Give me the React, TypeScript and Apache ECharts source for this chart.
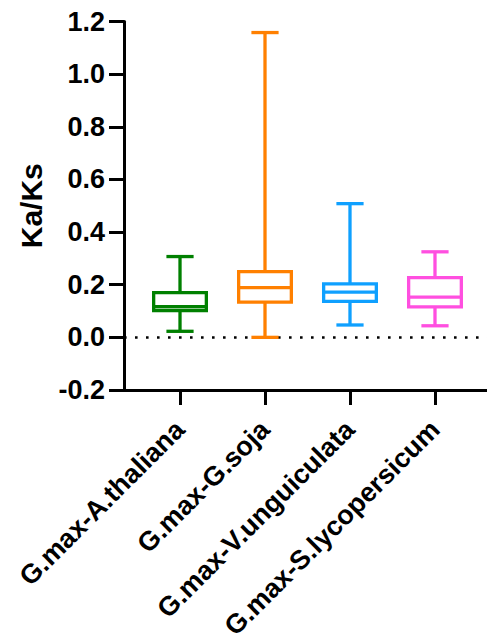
import React, { useEffect, useRef } from "react";
import * as echarts from "echarts";

// Ka/Ks distributions per species pair (five-number summaries)
const categories = [
  "G.max-A.thaliana",
  "G.max-G.soja",
  "G.max-V.unguiculata",
  "G.max-S.lycopersicum",
];
const mins = [0.023, 0.0, 0.047, 0.044];
const q1s = [0.102, 0.134, 0.137, 0.116];
const medians = [0.117, 0.189, 0.172, 0.153];
const q3s = [0.17, 0.25, 0.203, 0.227];
const maxs = [0.307, 1.158, 0.508, 0.325];
const colors = ["#008000", "#FF8000", "#0FA0FF", "#FF4FE0"];

const yTicks = [-0.2, 0, 0.2, 0.4, 0.6, 0.8, 1.0, 1.2];

const FONT = 'Arial, "Liberation Sans", sans-serif';

export default function App() {
  const ref = useRef<HTMLDivElement>(null);

  useEffect(() => {
    if (!ref.current) return;
    const chart = echarts.init(ref.current, null, { renderer: "svg" });

    const data = categories.map((_, i) => [
      i,
      mins[i],
      q1s[i],
      medians[i],
      q3s[i],
      maxs[i],
    ]);
    const idx = categories.map((_, i) => i);

    chart.setOption({
      animation: false,
      backgroundColor: "#ffffff",
      grid: {
        left: 124,
        right: 0,
        top: 21.5,
        bottom: 250,
        containLabel: false,
        outerBoundsMode: "none",
      },
      xAxis: {
        type: "value",
        min: -0.659,
        max: 3.612,
        splitLine: { show: false },
        axisLine: { show: true, onZero: false, lineStyle: { color: "#000", width: 3 } },
        axisTick: {
          show: true,
          customValues: idx,
          length: 15,
          lineStyle: { color: "#000", width: 3 },
        },
        axisLabel: {
          show: true,
          customValues: idx,
          rotate: 45,
          margin: 35,
          color: "#000",
          fontFamily: FONT,
          fontWeight: "bold",
          fontSize: 27,
          formatter: (v: number) => categories[Math.round(v)] ?? "",
        },
      },
      yAxis: {
        type: "value",
        min: yTicks[0],
        max: yTicks[yTicks.length - 1],
        interval: 0.2,
        name: "Ka/Ks",
        nameLocation: "middle",
        nameGap: 78,
        nameTextStyle: {
          color: "#000",
          fontFamily: FONT,
          fontWeight: "bold",
          fontSize: 30,
        },
        splitLine: { show: false },
        axisLine: { show: true, onZero: false, lineStyle: { color: "#000", width: 3 } },
        axisTick: { show: true, length: 15, lineStyle: { color: "#000", width: 3 } },
        axisLabel: {
          margin: 19,
          color: "#000",
          fontFamily: FONT,
          fontWeight: "bold",
          fontSize: 27,
          formatter: (v: number) => v.toFixed(1),
        },
      },
      series: [
        {
          type: "custom",
          data,
          encode: { x: 0, y: [1, 2, 3, 4, 5] },
          renderItem: (params: any, api: any) => {
            const x = api.value(0);
            const lo = api.coord([x, api.value(1)]);
            const q1 = api.coord([x, api.value(2)]);
            const md = api.coord([x, api.value(3)]);
            const q3 = api.coord([x, api.value(4)]);
            const hi = api.coord([x, api.value(5)]);
            const unit = api.size([1, 0])[0];
            const hw = unit * 0.31;
            const cw = unit * 0.16;
            const cx = lo[0];
            const style = {
              stroke: colors[params.dataIndex],
              lineWidth: 3.3,
              fill: "none",
            };
            return {
              type: "group",
              children: [
                { type: "line", shape: { x1: cx, y1: hi[1], x2: cx, y2: q3[1] }, style },
                { type: "line", shape: { x1: cx, y1: q1[1], x2: cx, y2: lo[1] }, style },
                { type: "line", shape: { x1: cx - cw, y1: hi[1], x2: cx + cw, y2: hi[1] }, style },
                { type: "line", shape: { x1: cx - cw, y1: lo[1], x2: cx + cw, y2: lo[1] }, style },
                {
                  type: "rect",
                  shape: { x: cx - hw, y: q3[1], width: 2 * hw, height: q1[1] - q3[1] },
                  style,
                },
                { type: "line", shape: { x1: cx - hw, y1: md[1], x2: cx + hw, y2: md[1] }, style },
              ],
            };
          },
          markLine: {
            silent: true,
            symbol: "none",
            label: { show: false },
            lineStyle: { color: "#000", width: 2.6, type: [2.6, 8.4] },
            data: [{ yAxis: 0 }],
            z: 1,
          },
          z: 5,
        },
      ],
    });

    return () => chart.dispose();
  }, []);

  return (
    <div
      ref={ref}
      style={{ position: "fixed", left: 0, top: 0, width: 487, height: 640, background: "#fff" }}
    />
  );
}
